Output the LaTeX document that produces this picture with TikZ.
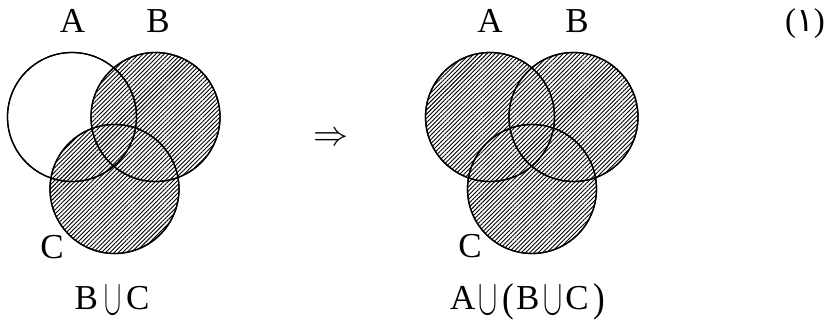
\RequirePackage{fix-cm}
\documentclass[tikz,border=0pt]{standalone}
\usepackage{fontspec}
\usepackage{graphicx}
\setmainfont{Liberation Serif}
\newcommand\mycup[1]{\raisebox{-5pt}{\resizebox{#1}{28pt}{$\cup$}}}
\newcommand\mylp{\raisebox{-2.5pt}{\scalebox{1}[1.15]{(}}}
\newcommand\myrp{\raisebox{-2.5pt}{\scalebox{1}[1.15]{)}}}
\newfontfamily\arabicfont[Script=Arabic]{DejaVu Sans}
\usetikzlibrary{patterns.meta}
\tikzset{
  venn/.style={circle, draw=black, line width=1.3pt, minimum size=129pt, inner sep=0pt},
  hatch/.style={pattern={Lines[angle=45, distance=3pt, line width=0.9pt]}, pattern color=black},
  lbl/.style={font=\fontsize{35}{40}\selectfont, inner sep=0pt},
  capt/.style={font=\fontsize{35}{40}\selectfont, inner sep=0pt, anchor=base west},
}
\begin{document}
\begin{tikzpicture}[x=1pt,y=-1pt]
\useasboundingbox (0,0) rectangle (826,320);
% left diagram: B u C
\node[venn] (lA) at (72,117) {};
\node[venn] (lB) at (155.5,117) {};
\node[venn] (lC) at (114.5,189) {};
\fill[hatch] (lB.center) circle[radius=64.5] (lC.center) circle[radius=64.5];
\draw[line width=1.3pt] (lA.center) circle[radius=64.5] (lB.center) circle[radius=64.5] (lC.center) circle[radius=64.5];
\node[lbl] (tA1) at (72.5,21) {A};
\node[lbl] (tB1) at (158,21) {B};
\node[lbl] (tC1) at (52,247) {C};
\node[capt] (cap1) at (74.5,309) {B\hspace{6pt}\mycup{17pt}\hspace{5pt}C};
% arrow
\node[inner sep=0pt] (imp) at (331,139) {\resizebox{35pt}{!}{$\Rightarrow$}};
% right diagram: A u (B u C)
\node[venn] (rA) at (490,117) {};
\node[venn] (rB) at (573.5,117) {};
\node[venn] (rC) at (532,189) {};
\fill[hatch] (rA.center) circle[radius=64.5] (rB.center) circle[radius=64.5] (rC.center) circle[radius=64.5];
\draw[line width=1.3pt] (rA.center) circle[radius=64.5] (rB.center) circle[radius=64.5] (rC.center) circle[radius=64.5];
\node[lbl] (tA2) at (490,21) {A};
\node[lbl] (tB2) at (577,21) {B};
\node[lbl] (tC2) at (470,246) {C};
\node[capt] (cap2) at (450,309) {A\hspace{3pt}\mycup{19pt}\hspace{5pt}\mylp\hspace{2pt}B\hspace{4pt}\mycup{19pt}\hspace{3pt}C\hspace{5pt}\myrp};
% number
\node[lbl, font=\fontsize{33}{38}\selectfont, anchor=east] (num) at (825,24) {({\arabicfont ١})};
\end{tikzpicture}
\end{document}
